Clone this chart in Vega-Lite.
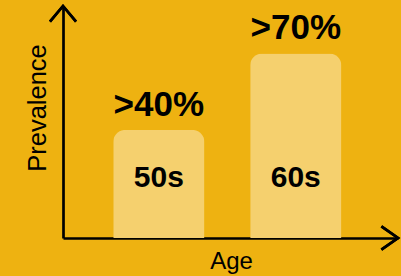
{
  "$schema": "https://vega.github.io/schema/vega-lite/v6.json",
  "width": 335,
  "height": 232,
  "autosize": {"type": "none"},
  "padding": {"left": 63, "top": 6, "right": 3, "bottom": 38},
  "background": "#EEB211",
  "config": {
    "view": {"stroke": null},
    "font": "Liberation Sans",
    "axis": {
      "domainColor": "#000000",
      "domainWidth": 2.7,
      "ticks": false,
      "labels": false,
      "grid": false,
      "titleFont": "Liberation Sans",
      "titleFontWeight": "normal",
      "titleColor": "#000000"
    }
  },
  "data": {
    "values": [
      {"age": "50s", "prevalence": 41, "label": ">40%"},
      {"age": "60s", "prevalence": 70, "label": ">70%"}
    ]
  },
  "layer": [
    {
      "mark": {"type": "bar", "color": "#F5D06E", "cornerRadiusTopLeft": 12, "cornerRadiusTopRight": 12},
      "encoding": {
        "x": {
          "field": "age", "type": "nominal",
          "scale": {"paddingInner": 0.334, "paddingOuter": 0.39, "align": 0.47},
          "axis": {"title": "Age", "titleFontSize": 24, "titleX": 168, "titleY": 30.3, "titleBaseline": "alphabetic", "titleAlign": "center"}
        },
        "y": {
          "field": "prevalence", "type": "quantitative",
          "scale": {"domain": [0, 88], "nice": false},
          "axis": {"title": "Prevalence", "titleFontSize": 25.5, "titleX": -18, "titleY": 101.5, "titleAngle": -90, "titleBaseline": "alphabetic", "titleAlign": "center"}
        }
      }
    },
    {
      "mark": {"type": "text", "fontSize": 35, "fontWeight": "bold", "color": "#000000", "baseline": "alphabetic", "dy": -14},
      "encoding": {
        "x": {"field": "age", "type": "nominal"},
        "y": {"field": "prevalence", "type": "quantitative"},
        "text": {"field": "label"}
      }
    },
    {
      "mark": {"type": "text", "fontSize": 30, "fontWeight": "bold", "color": "#000000", "baseline": "alphabetic", "dy": -51},
      "encoding": {
        "x": {"field": "age", "type": "nominal"},
        "y": {"datum": 0, "type": "quantitative"},
        "text": {"field": "age"}
      }
    },
    {
      "mark": {"type": "point", "shape": "M-0.83,1L0,0L0.83,1", "size": 986, "filled": false, "stroke": "#000000", "strokeWidth": 2.7, "opacity": 1},
      "encoding": {
        "x": {"value": 0},
        "y": {"datum": 88, "type": "quantitative"}
      }
    },
    {
      "mark": {"type": "point", "shape": "M-1,-0.7L0,0L-1,0.7", "size": 1102, "filled": false, "stroke": "#000000", "strokeWidth": 2.7, "opacity": 1},
      "encoding": {
        "x": {"value": "width"},
        "y": {"datum": 0, "type": "quantitative"}
      }
    }
  ]
}
